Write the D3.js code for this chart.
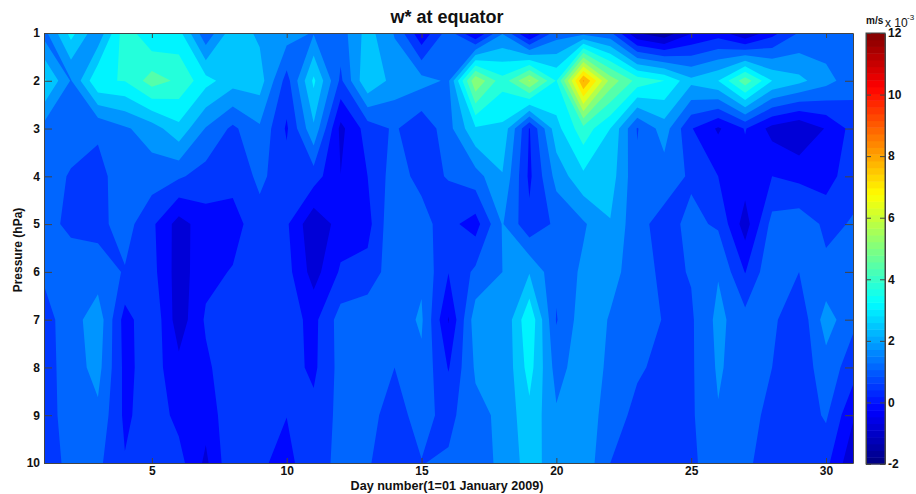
<!DOCTYPE html>
<html lang="en">
<head>
<meta charset="UTF-8">
<title>w* at equator</title>
<script src="https://d3js.org/d3.v7.min.js"></script>
<style>
    body { margin: 0; background: white; }
    svg { display: block; }
    text { font-family: "Liberation Sans", Arial, sans-serif; fill: #111; }
    .tick text { font-size: 12px; font-weight: bold; }
    .tick line, .domain { stroke: #444; }
</style>
</head>
<body>
<script>
// values in units of 1e-3 m/s, one array per pressure level, day 1 to 31
var days = d3.range(1, 32);
var pressures = [1, 2, 3, 4, 5, 6, 7, 8, 9, 10];

var p1 = [1.6, 3.5, 2.0, 4.4, 3.3, 3.5, 1.3, 3.0, 2.4, 2.2, 1.8, 1.5, 2.85, 1.8, -0.1, 1.5, -0.4, 1.8, -0.5, 1.5, 1.6, 1.3, -0.95, -1.5, -0.3, 0.1, -1.0, 0.2, 1.2, 1.4, 1.3];
var p2 = [3.4, 1.8, 3.9, 3.97, 5.0, 4.5, 3.5, 2.85, 2.9, 0.85, 3.4, 1.0, 3.2, 2.25, 2.1, 1.75, 6.0, 4.2, 6.15, 3.9, 8.95, 5.8, 4.4, 3.95, 2.75, 3.25, 5.1, 3.25, 2.75, 2.1, 1.45];
var p3 = [1.6, 1.4, 1.25, 1.75, 2.2, 3.05, 1.8, 1.0, 1.74, 0.35, 2.43, -0.45, 0.77, 1.25, 0.6, 1.6, 3.15, 3.1, 0.4, 3.0, 4.4, 3.25, 1.1, 2.2, 0.5, -0.35, 0.5, -0.5, -0.9, -0.2, 0.7];
var p4 = [1.4, 1.1, 0.95, 1.5, 1.5, 1.25, 0.85, 0.7, 1.3, 0.75, 0.8, -0.24, 0.45, 1.5, 0.9, 1.2, 1.55, 2.5, 0.3, 2.1, 3.1, 2.9, 1.3, 1.5, 1.05, 0.45, 0.1, 0.45, 0.25, 0.1, 0.95];
var p5 = [1.3, 1.05, 0.95, 1.45, 0.6, -0.55, 0.15, 0.15, 0.9, 0.55, -0.8, 0.05, 0.2, 1.8, 1.5, 0.65, 0.15, 1.9, 0.63, 1.3, 1.75, 2.5, 1.35, 0.9, 1.32, 1.05, -0.6, 1.4, 1.6, 1.0, 1.2];
var p6 = [1.25, 1.4, 1.45, 1.1, 0.7, -0.6, 0.25, 0.5, 0.95, 0.7, -0.55, 0.55, 0.7, 1.6, 1.72, 0.47, 1.3, 1.85, 2.5, 1.3, 2.0, 2.05, 1.55, 0.95, 1.2, 1.8, 0.42, 1.75, 1.15, 1.3, 1.5];
var p7 = [0.9, 1.5, 2.3, 0.15, 1.05, -0.65, 0.55, 0.9, 1.0, 0.75, 0.25, 1.45, 1.65, 1.5, 1.95, -0.3, 2.25, 1.85, 3.85, 1.1, 2.25, 1.8, 1.55, 1.1, 1.05, 2.05, 1.4, 1.3, 0.6, 2.2, 1.3];
var p8 = [0.85, 1.5, 2.1, 0.25, 0.8, -0.05, 0.3, 0.95, 1.0, 0.75, 0.3, 1.4, 1.5, 1.15, 1.7, 0.4, 1.95, 1.9, 3.55, 1.55, 2.3, 1.7, 1.25, 0.95, 1.05, 1.95, 1.45, 1.15, 0.7, 1.55, 0.8];
var p9 = [0.8, 1.5, 1.7, 0.3, 0.85, 0.25, 0.0, 1.0, 1.0, 0.46, 0.65, 1.35, 1.3, 0.95, 1.35, 0.95, 1.65, 2.0, 3.05, 1.95, 2.3, 1.5, 0.95, 0.9, 1.05, 1.8, 1.5, 0.9, 0.7, 1.25, -0.15];
var p10 = [0.8, 1.34, 1.3, 0.5, 0.9, 0.7, -0.4, 1.05, 0.55, 0.25, 0.9, 1.3, 1.2, 0.85, 1.13, 1.25, 1.55, 2.0, 2.85, 2.2, 2.35, 1.15, 0.8, 0.75, 1.0, 1.6, 1.4, 0.55, 0.7, 0.65, -0.8];

var levels = [-1.65, -0.95, -0.25, 0.45, 1.15, 1.85, 2.55, 3.25, 3.95, 4.65, 5.35, 6.05, 6.75, 7.45, 8.15, 8.85];
// value on the colour axis that each band above is painted with
var bandColours = [-1.45, -0.8, -0.15, 0.5, 1.15, 1.8, 2.45, 3.1, 3.75, 4.4, 5.05, 5.7, 6.35, 7, 7.65, 8.3];
var xTicks = [5, 10, 15, 20, 25, 30];
var barTicks = [-2, 0, 2, 4, 6, 8, 10, 12];

var width = 916, height = 494;
var svg = d3.select("body").append("svg").attr("width", width).attr("height", height);

var x = d3.scaleLinear().domain([1, 31]).range([44, 853]);
var y = d3.scaleLinear().domain([1, 10]).range([33, 463]);
var barY = d3.scaleLinear().domain([-2, 12]).range([464, 33]);

// jet colormap over the colour axis
var jet = d3.scaleLinear()
    .domain([0, 0.125, 0.375, 0.625, 0.875, 1].map(function(f){ return -2 + 14 * f; }))
    .range(["#000080", "#0000ff", "#00ffff", "#ffff00", "#ff0000", "#800000"]);

svg.append("clipPath").attr("id", "plot").append("rect")
    .attr("x", x(1)).attr("y", y(1))
    .attr("width", x(31) - x(1)).attr("height", y(10) - y(1));

var grid = [p1, p2, p3, p4, p5, p6, p7, p8, p9, p10].reduce(function(a, b){ return a.concat(b); }, []);
var contours = d3.contours().size([days.length, pressures.length]).thresholds(levels)(grid);

// contour coordinates have grid node i at i + 0.5
var path = d3.geoPath(d3.geoTransform({
    point: function(px, py) { this.stream.point(x(px + 0.5), y(py + 0.5)); }
}));

var fills = svg.append("g").attr("clip-path", "url(#plot)");
fills.selectAll("path")
    .data(contours)
    .enter().append("path")
        .attr("d", path)
        .attr("fill", function(d, i){ return jet(bandColours[i]); });

// axes, ticks point inwards on all four sides
svg.append("g").attr("transform", "translate(0," + y(10) + ")")
    .call(d3.axisBottom(x).tickValues(xTicks).tickSize(-5).tickSizeOuter(0).tickPadding(3));
svg.append("g").attr("transform", "translate(0," + y(1) + ")")
    .call(d3.axisTop(x).tickValues(xTicks).tickSize(-5).tickSizeOuter(0).tickFormat(""));
svg.append("g").attr("transform", "translate(" + x(1) + ",0)")
    .call(d3.axisLeft(y).tickValues(pressures).tickSize(-8).tickSizeOuter(0).tickPadding(4));
svg.append("g").attr("transform", "translate(" + x(31) + ",0)")
    .call(d3.axisRight(y).tickValues(pressures).tickSize(-8).tickSizeOuter(0).tickFormat(""));

// colorbar
var steps = d3.range(64);
var bar = svg.append("g");
bar.selectAll("rect")
    .data(steps)
    .enter().append("rect")
        .attr("x", 866).attr("width", 19)
        .attr("y", function(d){ return barY(-2 + 14 * (d + 1) / 64); })
        .attr("height", function(d){ return barY(-2 + 14 * d / 64) - barY(-2 + 14 * (d + 1) / 64) + 0.5; })
        .attr("fill", function(d){ return jet(-2 + 14 * (d + 0.5) / 64); });
svg.append("g").attr("transform", "translate(885,0)")
    .call(d3.axisRight(barY).tickValues(barTicks).tickSize(-5).tickSizeOuter(0).tickPadding(3).tickFormat(function(d){ return String(d); }));
svg.append("g").attr("transform", "translate(866,0)")
    .call(d3.axisLeft(barY).tickValues(barTicks).tickSize(-5).tickSizeOuter(0).tickFormat(""));
svg.append("rect").attr("x", 866).attr("y", 33).attr("width", 19).attr("height", 431)
    .attr("fill", "none").attr("stroke", "#444");

svg.append("text").attr("x", 447).attr("y", 23).attr("text-anchor", "middle")
    .style("font-size", "18px").style("font-weight", "bold").text("w* at equator");
svg.append("text").attr("x", 447).attr("y", 490).attr("text-anchor", "middle")
    .style("font-size", "12.6px").style("font-weight", "bold").text("Day number(1=01 January 2009)");
svg.append("text").attr("transform", "translate(22,250) rotate(-90)").attr("text-anchor", "middle")
    .style("font-size", "12px").style("font-weight", "bold").text("Pressure (hPa)");
svg.append("text").attr("x", 866).attr("y", 24)
    .style("font-size", "10px").style("font-weight", "bold").text("m/s");
svg.append("text").attr("x", 885).attr("y", 27)
    .style("font-size", "12px").text("x 10");
svg.append("text").attr("x", 907).attr("y", 20)
    .style("font-size", "8px").text("-3");
</script>
</body>
</html>
